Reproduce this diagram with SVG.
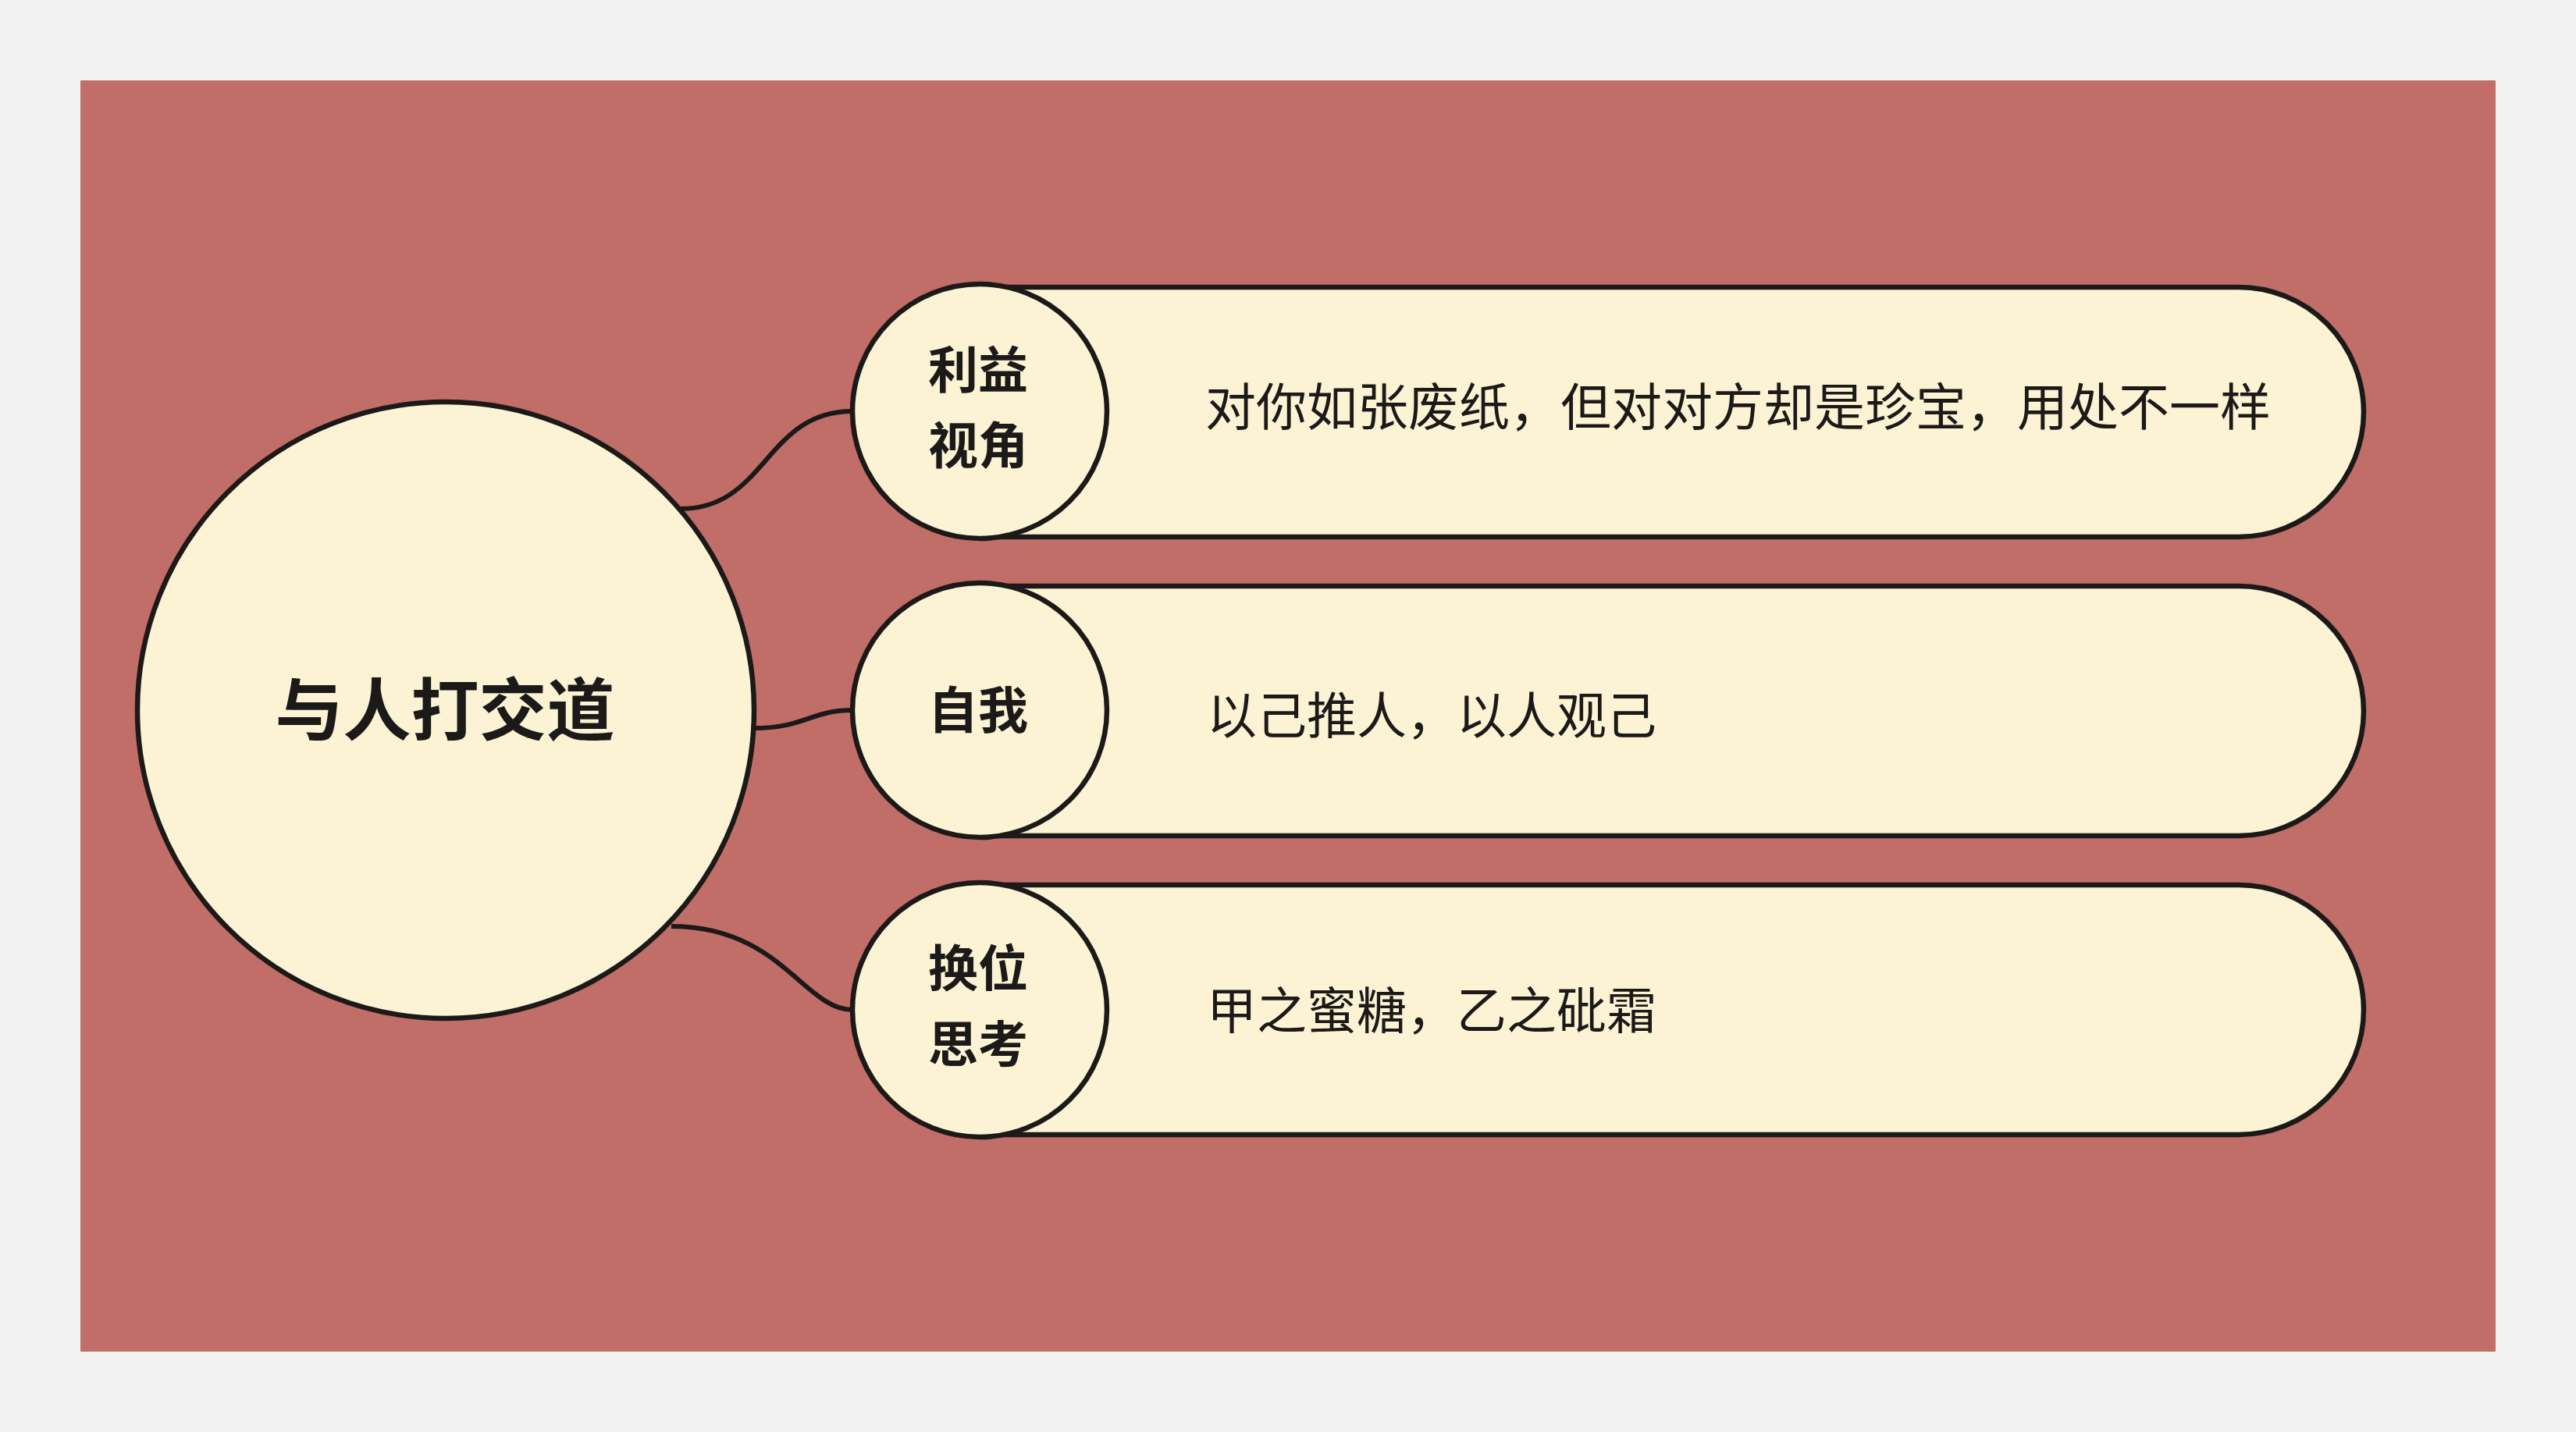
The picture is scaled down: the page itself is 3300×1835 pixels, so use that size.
<svg xmlns="http://www.w3.org/2000/svg" width="3300" height="1835" viewBox="0 0 3300 1835">
<style>
.node{fill:#fcf2d4;stroke:#1b1a19;stroke-width:6.5}
.conn{fill:none;stroke:#1b1a19;stroke-width:6}
.t{font-family:"Noto Sans CJK SC","Noto Sans",sans-serif;fill:#1b1a19;text-anchor:middle}
.b{font-weight:bold}
.d{font-family:"Noto Sans CJK SC","Noto Sans",sans-serif;fill:#1b1a19;font-size:64px}
</style>
<rect x="0" y="0" width="3300" height="1835" fill="#f2f2f2"/>
<rect x="103" y="103" width="3094" height="1629" fill="#c16d68"/>
<g id="connectors">
<path class="conn" d="M872,652 C982,652 980,527 1092,527"/>
<path class="conn" d="M966,933 C1030,933 1040,910 1092,910"/>
<path class="conn" d="M860,1187 C1000,1187 1030,1294 1092,1294"/>
</g>
<g id="root">
<circle class="node" cx="571" cy="910" r="395"/>
<text class="t b" x="570" y="942" font-size="87">与人打交道</text>
</g>
<g id="n1">
<path class="node" d="M1255,368 H2868 A160,160 0 0 1 2868,688 H1255 Z"/>
<circle class="node" cx="1255" cy="527" r="163"/>
<text class="t b" x="1253" y="497" font-size="64">利益</text>
<text class="t b" x="1253" y="594" font-size="64">视角</text>
<text class="d" x="1544" y="545" style="font-size:65px">对你如张废纸，但对对方却是珍宝，用处不一样</text>
</g>
<g id="n2">
<path class="node" d="M1255,751 H2868 A160,160 0 0 1 2868,1071 H1255 Z"/>
<circle class="node" cx="1255" cy="910" r="163"/>
<text class="t b" x="1253" y="933" font-size="64">自我</text>
<text class="d" x="1546" y="940">以己推人，以人观己</text>
</g>
<g id="n3">
<path class="node" d="M1255,1134 H2868 A160,160 0 0 1 2868,1454 H1255 Z"/>
<circle class="node" cx="1255" cy="1294" r="163"/>
<text class="t b" x="1253" y="1264" font-size="64">换位</text>
<text class="t b" x="1253" y="1361" font-size="64">思考</text>
<text class="d" x="1546" y="1318">甲之蜜糖，乙之砒霜</text>
</g>
</svg>
